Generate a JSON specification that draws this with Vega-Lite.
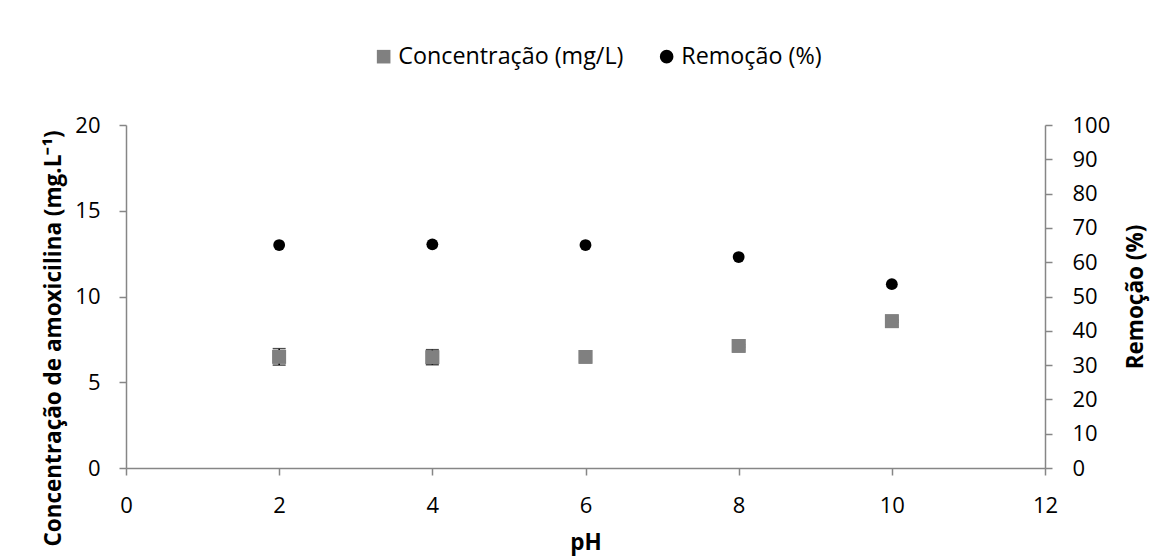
{
  "$schema": "https://vega.github.io/schema/vega-lite/v6.json",
  "autosize": {"type": "none"},
  "padding": {"left": 126, "top": 125, "right": 122, "bottom": 92},
  "width": 919,
  "height": 343,
  "background": "white",
  "config": {
    "font": "Open Sans",
    "view": {"stroke": null},
    "axis": {
      "grid": false,
      "domainColor": "#868686",
      "domainWidth": 1.5,
      "tickColor": "#868686",
      "tickWidth": 1.5,
      "tickSize": 7,
      "labelFont": "Open Sans",
      "labelFontSize": 22,
      "labelColor": "#000000",
      "labelFlush": false,
      "labelPadding": 19,
      "titleFont": "Open Sans",
      "titleFontSize": 22.5,
      "titleFontWeight": "bold",
      "titleColor": "#000000"
    },
    "legend": {"labelFont": "Open Sans", "labelFontSize": 23.3, "labelColor": "#000000", "labelLimit": 400}
  },
  "data": {
    "values": [
      {"pH": 2, "conc": 6.48, "lo": 6.0, "hi": 6.96, "rem": 65.0},
      {"pH": 4, "conc": 6.46, "lo": 6.02, "hi": 6.9, "rem": 65.2},
      {"pH": 6, "conc": 6.48, "lo": 6.4, "hi": 6.56, "rem": 65.0},
      {"pH": 8, "conc": 7.12, "lo": 7.05, "hi": 7.19, "rem": 61.5},
      {"pH": 10, "conc": 8.56, "lo": 8.5, "hi": 8.62, "rem": 53.6}
    ]
  },
  "encoding": {
    "x": {
      "field": "pH",
      "type": "quantitative",
      "scale": {"domain": [0, 12], "nice": false, "zero": false},
      "axis": {"values": [0, 2, 4, 6, 8, 10, 12], "title": "pH", "labelPadding": 20, "titlePadding": 15}
    }
  },
  "layer": [
    {
      "layer": [
        {
          "mark": {"type": "point", "filled": true, "opacity": 1, "size": 190},
          "encoding": {
            "y": {
              "field": "conc",
              "type": "quantitative",
              "scale": {"domain": [0, 20], "nice": false},
              "axis": {"values": [0, 5, 10, 15, 20], "title": "Concentração de amoxicilina (mg.L⁻¹)", "titlePadding": 9, "titleY": 213}
            },
            "color": {
              "datum": "Concentração (mg/L)",
              "type": "nominal",
              "scale": {"domain": ["Concentração (mg/L)", "Remoção (%)"], "range": ["#808080", "#000000"]},
              "legend": {"title": null, "orient": "none", "direction": "horizontal", "legendX": 246, "legendY": -80, "symbolSize": 185, "symbolStrokeWidth": 0, "labelOffset": 3, "columnPadding": 31, "symbolOpacity": 1}
            },
            "shape": {
              "datum": "Concentração (mg/L)",
              "type": "nominal",
              "scale": {"domain": ["Concentração (mg/L)", "Remoção (%)"], "range": ["square", "circle"]},
              "legend": {"title": null, "orient": "none", "direction": "horizontal", "legendX": 246, "legendY": -80, "symbolSize": 185, "symbolStrokeWidth": 0, "labelOffset": 3, "columnPadding": 31, "symbolOpacity": 1}
            }
          }
        },
        {
          "mark": {"type": "errorbar", "color": "#000000", "thickness": 1.5, "ticks": {"size": 13, "thickness": 1.5}},
          "encoding": {
            "y": {"field": "lo", "type": "quantitative", "scale": {"domain": [0, 20], "nice": false}, "title": "Concentração de amoxicilina (mg.L⁻¹)"},
            "y2": {"field": "hi"}
          }
        },
        {
          "mark": {"type": "point", "filled": true, "opacity": 1, "size": 190, "color": "#808080"},
          "encoding": {
            "y": {"field": "conc", "type": "quantitative", "scale": {"domain": [0, 20], "nice": false}, "title": "Concentração de amoxicilina (mg.L⁻¹)"},
            "shape": {"value": "square"}
          }
        }
      ]
    },
    {
      "mark": {"type": "point", "filled": true, "opacity": 1, "size": 140},
      "encoding": {
        "y": {
          "field": "rem",
          "type": "quantitative",
          "scale": {"domain": [0, 100], "nice": false},
          "axis": {"orient": "right", "values": [0, 10, 20, 30, 40, 50, 60, 70, 80, 90, 100], "title": "Remoção (%)", "titleAngle": 270, "titleBaseline": "top", "labelPadding": 20, "titlePadding": 15}
        },
        "color": {"datum": "Remoção (%)", "type": "nominal"},
        "shape": {"datum": "Remoção (%)", "type": "nominal"}
      }
    }
  ],
  "resolve": {"scale": {"y": "independent"}}
}
